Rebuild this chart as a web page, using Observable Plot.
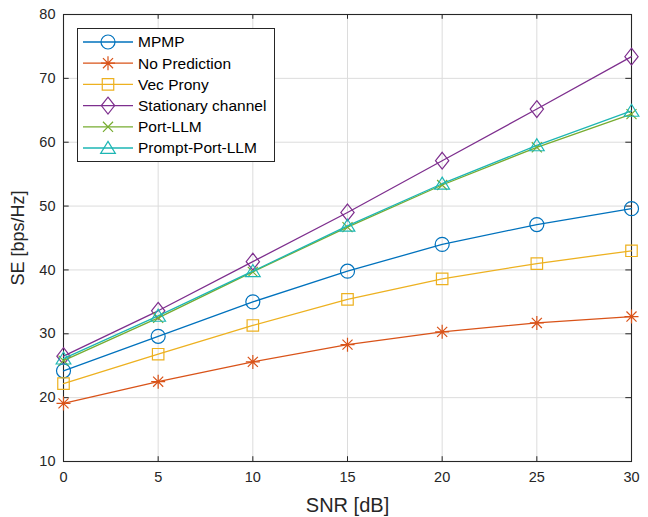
<!DOCTYPE html>
<html>
<head>
<meta charset="utf-8">
<script src="https://cdn.jsdelivr.net/npm/d3@7"></script>
<script src="https://cdn.jsdelivr.net/npm/@observablehq/plot@0.6"></script>
<style>
  html, body { margin: 0; padding: 0; background: #fff; }
  #wrap { position: relative; width: 648px; height: 517px; font-family: "Liberation Sans", Arial, sans-serif; }
  #wrap svg g[aria-label="x-axis label"] text { font-size: 20px; }
  #wrap svg g[aria-label="y-axis label"] text { font-size: 18px; }
  #legend { position: absolute; left: 77px; top: 28px; }
</style>
</head>
<body>
<div id="wrap"></div>
<script>
// ---- data ----
const snr = [0, 5, 10, 15, 20, 25, 30];
const seriesNames = ["MPMP", "No Prediction", "Vec Prony", "Stationary channel", "Port-LLM", "Prompt-Port-LLM"];
const mpmp       = [24.2, 29.6, 35.0, 39.8, 44.0, 47.1, 49.6];
const noPred     = [19.1, 22.5, 25.6, 28.3, 30.3, 31.7, 32.7];
const vecProny   = [22.2, 26.8, 31.3, 35.4, 38.6, 41.0, 43.0];
const stationary = [26.5, 33.6, 41.3, 49.0, 57.1, 65.2, 73.4];
const portLLM    = [25.8, 32.5, 39.7, 46.7, 53.3, 59.2, 64.4];
const promptLLM  = [26.1, 32.8, 39.8, 46.9, 53.5, 59.5, 64.9];
const yTicks = [10, 20, 30, 40, 50, 60, 70, 80];
const xTicks = [0, 5, 10, 15, 20, 25, 30];

const values = [mpmp, noPred, vecProny, stationary, portLLM, promptLLM];
const colors = ["#0072BD", "#D95319", "#EDB120", "#7E2F8E", "#77AC30", "#1DB6B4"];

// custom MATLAB-like marker symbols (size = r*r*PI from Plot)
const rad = s => Math.sqrt(s / Math.PI);
const symCircle = { draw(c, s) { const r = rad(s); c.moveTo(r, 0); c.arc(0, 0, r, 0, 2 * Math.PI); } };
const symStar = { draw(c, s) { const r = rad(s); const d = r * 0.72;
  c.moveTo(-r, 0); c.lineTo(r, 0); c.moveTo(0, -r); c.lineTo(0, r);
  c.moveTo(-d, -d); c.lineTo(d, d); c.moveTo(-d, d); c.lineTo(d, -d); } };
const symSquare = { draw(c, s) { const r = rad(s) * 0.82; c.rect(-r, -r, 2 * r, 2 * r); } };
const symDiamond = { draw(c, s) { const r = rad(s); const w = r * 0.95, h = r * 1.2;
  c.moveTo(0, -h); c.lineTo(w, 0); c.lineTo(0, h); c.lineTo(-w, 0); c.closePath(); } };
const symTimes = { draw(c, s) { const r = rad(s) * 0.72;
  c.moveTo(-r, -r); c.lineTo(r, r); c.moveTo(-r, r); c.lineTo(r, -r); } };
const symTriangle = { draw(c, s) { const r = rad(s); const w = r * 1.05, h = r * 0.95;
  c.moveTo(0, -h); c.lineTo(w, h * 0.8); c.lineTo(-w, h * 0.8); c.closePath(); } };
const symbols = [symCircle, symStar, symSquare, symDiamond, symTimes, symTriangle];

const rows = [];
seriesNames.forEach((name, i) => snr.forEach((x, j) => rows.push({ series: name, snr: x, se: values[i][j] })));

const marks = [
  Plot.gridX(xTicks, { stroke: "#dcdcdc", strokeOpacity: 1 }),
  Plot.gridY(yTicks, { stroke: "#dcdcdc", strokeOpacity: 1 }),
  Plot.ruleX(xTicks, { x: d => d, y1: 10, y2: 10.75, stroke: "#262626" }),
  Plot.ruleX(xTicks, { x: d => d, y1: 80, y2: 79.25, stroke: "#262626" }),
  Plot.ruleY(yTicks, { y: d => d, x1: 0, x2: 0.3, stroke: "#262626" }),
  Plot.ruleY(yTicks, { y: d => d, x1: 30, x2: 29.7, stroke: "#262626" }),
  Plot.frame({ stroke: "#262626", strokeWidth: 1.1 }),
  Plot.axisX(xTicks, { anchor: "bottom", tickSize: 0, tickPadding: 10, fontSize: 14.5, color: "#262626",
    label: "SNR [dB]", labelAnchor: "center", labelOffset: 50, labelArrow: "none" }),
  Plot.axisY(yTicks, { anchor: "left", tickSize: 0, tickPadding: 8, fontSize: 14.5, color: "#262626",
    label: "SE [bps/Hz]", labelAnchor: "center", labelOffset: 52, labelArrow: "none" })
];
seriesNames.forEach((name, i) => {
  const d = rows.filter(r => r.series === name);
  marks.push(Plot.line(d, { x: "snr", y: "se", stroke: colors[i], strokeWidth: 1.3 }));
  marks.push(Plot.dot(d, { x: "snr", y: "se", stroke: colors[i], fill: "none", strokeWidth: 1.2, r: 7, symbol: symbols[i] }));
});

const chart = Plot.plot({
  width: 648, height: 517,
  marginLeft: 63, marginRight: 17, marginTop: 14, marginBottom: 56,
  style: { fontFamily: "Liberation Sans, Arial, sans-serif", background: "#fff", overflow: "visible" },
  x: { domain: [0, 30] },
  y: { domain: [10, 80] },
  marks
});
document.getElementById("wrap").appendChild(chart);

// legend box (MATLAB-style, inside plot area)
const lg = d3.select("#wrap").append("svg").attr("id", "legend")
  .attr("width", 200).attr("height", 135);
lg.append("rect").attr("x", 0.5).attr("y", 0.5).attr("width", 197).attr("height", 133)
  .attr("fill", "#fff").attr("stroke", "#262626");
seriesNames.forEach((name, i) => {
  const y = 14 + i * 21.2;
  const g = lg.append("g");
  g.append("line").attr("x1", 6).attr("x2", 56).attr("y1", y).attr("y2", y)
    .attr("stroke", colors[i]).attr("stroke-width", 1.3);
  g.append("path").attr("transform", `translate(31,${y})`)
    .attr("d", d3.symbol(symbols[i], 49 * Math.PI)())
    .attr("fill", "none").attr("stroke", colors[i]).attr("stroke-width", 1.2);
  g.append("text").attr("x", 61).attr("y", y).attr("dy", "0.35em")
    .attr("font-size", 15.5).attr("fill", "#000").attr("font-family", "Liberation Sans, Arial, sans-serif")
    .text(name);
});
</script>
</body>
</html>
